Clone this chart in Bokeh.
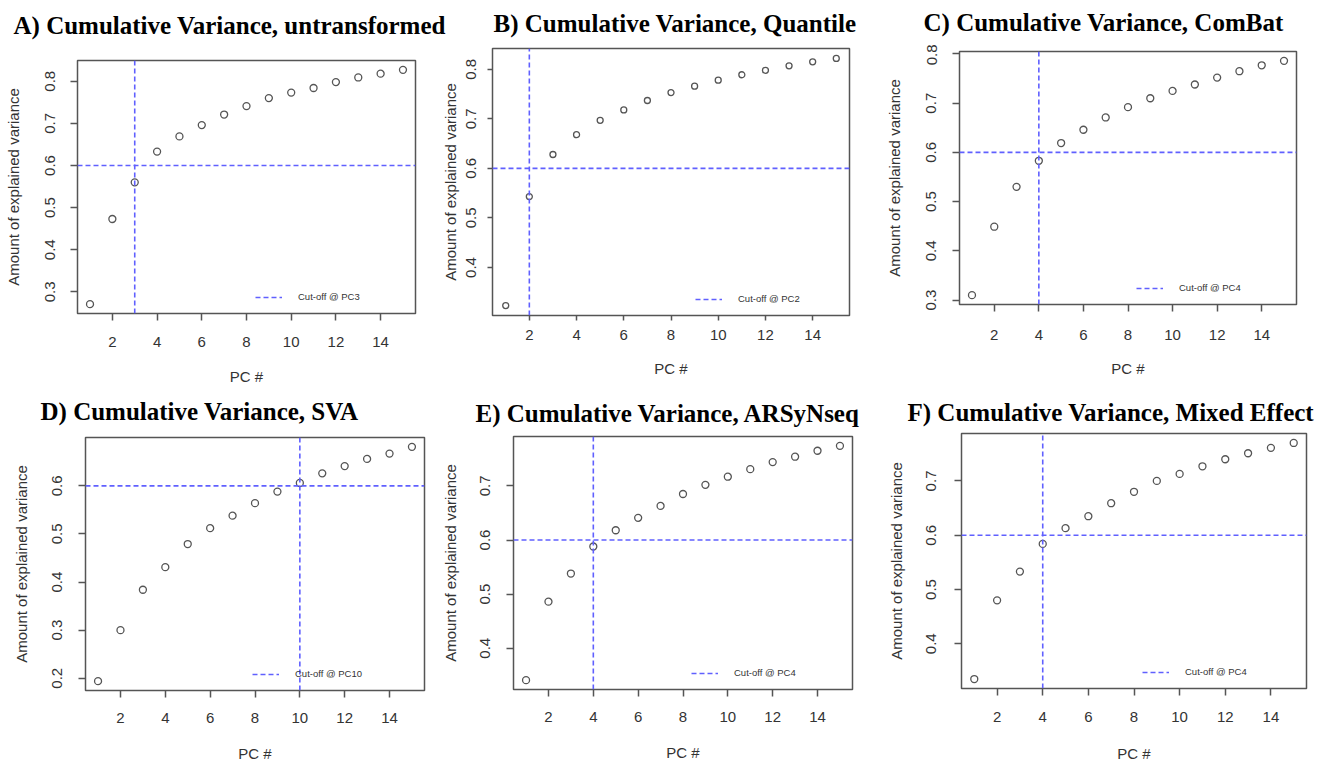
from bokeh.plotting import figure
from bokeh.layouts import column, row
from bokeh.models import (ColumnDataSource, Span, Legend, LegendItem, FixedTicker,
                          Range1d)
from bokeh.core.properties import value
from bokeh.embed import file_html
from bokeh.resources import INLINE

# ---------------- data ----------------
pcs = list(range(1, 16))
x_ticks = [2, 4, 6, 8, 10, 12, 14]
threshold = 0.6

titles = [
    "A) Cumulative Variance, untransformed",
    "B) Cumulative Variance, Quantile",
    "C) Cumulative Variance, ComBat",
    "D) Cumulative Variance, SVA",
    "E) Cumulative Variance, ARSyNseq",
    "F) Cumulative Variance, Mixed Effect",
]
var_untransformed = [0.271, 0.473, 0.560, 0.633, 0.669, 0.696, 0.721, 0.741, 0.760, 0.773, 0.784, 0.798, 0.809, 0.818, 0.827]
var_quantile = [0.323, 0.543, 0.628, 0.668, 0.697, 0.718, 0.737, 0.753, 0.766, 0.778, 0.789, 0.798, 0.807, 0.815, 0.822]
var_combat = [0.310, 0.449, 0.530, 0.583, 0.619, 0.646, 0.671, 0.692, 0.710, 0.725, 0.738, 0.752, 0.765, 0.777, 0.786]
var_sva = [0.194, 0.300, 0.384, 0.431, 0.479, 0.512, 0.538, 0.564, 0.588, 0.606, 0.626, 0.641, 0.656, 0.667, 0.681]
var_arsynseq = [0.341, 0.486, 0.538, 0.588, 0.618, 0.641, 0.663, 0.685, 0.702, 0.717, 0.731, 0.744, 0.754, 0.765, 0.774]
var_mixed = [0.335, 0.480, 0.533, 0.584, 0.613, 0.635, 0.659, 0.680, 0.700, 0.713, 0.727, 0.740, 0.751, 0.761, 0.770]
series = [var_untransformed, var_quantile, var_combat, var_sva, var_arsynseq, var_mixed]
cutoffs = [3, 2, 4, 10, 4, 4]
y_ticks = [
    [0.3, 0.4, 0.5, 0.6, 0.7, 0.8],
    [0.4, 0.5, 0.6, 0.7, 0.8],
    [0.3, 0.4, 0.5, 0.6, 0.7, 0.8],
    [0.2, 0.3, 0.4, 0.5, 0.6],
    [0.4, 0.5, 0.6, 0.7],
    [0.4, 0.5, 0.6, 0.7],
]
legend_labels = ["Cut-off @ PC%d" % c for c in cutoffs]

# ---------------- layout (pixels) ----------------
PAGE_W = 1330
title_band_h = [44, 42]                 # height of the title strip above each row
title_x = [13, 493, 923, 40, 475, 907]  # left edge of each title, page pixels
title_y = [25, 23, 22, 23, 25, 24]      # text anchor inside its title strip
fig_w = [438, 444, 448, 438, 444, 448]
fig_h = [344, 344, 344, 334, 334, 334]
b_left = [77, 52, 76, 85, 75, 79]
b_right = [23, 33, 34, 14, 30, 24]
b_top = [16, 4, 7, 7, 6, 3]
b_bot = [75, 73, 84, 74, 75, 74]
tick_out = [7, 5, 7, 7, 7, 7]
y_s1 = [15, 11, 16, 16, 16, 18]
y_s2 = [21, 5, 21, 20, 19, 19]
x_s1 = [16, 9, 18, 15, 15, 16]
x_s2 = [18, 17, 17, 19, 19, 20]
leg_x = [178, 203, 177, 167, 178, 181]
marker_size = [7, 6, 7, 7, 7, 7]

SANS = "Liberation Sans"
SERIF = "Liberation Serif"
DASH_COL = "#6060ff"
GREY = "#555555"


def make_title_strip(r):
    h = title_band_h[r]
    t = figure(width=PAGE_W, height=h, output_backend="svg", toolbar_location=None,
               x_range=Range1d(0, PAGE_W), y_range=Range1d(h, 0),
               x_axis_type=None, y_axis_type=None, min_border=0,
               outline_line_color=None)
    t.grid.visible = False
    idx = range(3 * r, 3 * r + 3)
    src = ColumnDataSource(dict(x=[title_x[i] for i in idx],
                                y=[title_y[i] for i in idx],
                                t=[titles[i] for i in idx]))
    t.text("x", "y", text="t", source=src, text_font=value(SERIF),
           text_font_size="25px", text_font_style="bold", text_color="#000000",
           text_align="left", text_baseline="alphabetic")
    return t


def make_panel(i):
    vals = series[i]
    lo, hi = min(vals), max(vals)
    pad = 0.04 * (hi - lo)
    xpad = 0.04 * (max(pcs) - min(pcs))
    y0, y1 = lo - pad, hi + pad
    p = figure(width=fig_w[i], height=fig_h[i], output_backend="svg",
               toolbar_location=None,
               x_range=Range1d(min(pcs) - xpad, max(pcs) + xpad),
               y_range=Range1d(y0, y1),
               min_border_left=b_left[i], min_border_right=b_right[i],
               min_border_top=b_top[i], min_border_bottom=b_bot[i],
               title=None)
    p.grid.visible = False
    p.outline_line_color = GREY
    p.outline_line_width = 1.5
    p.background_fill_color = "white"
    p.border_fill_color = "white"

    for ax in (p.xaxis[0], p.yaxis[0]):
        ax.axis_line_color = None
        ax.major_tick_line_color = GREY
        ax.major_tick_line_width = 1.5
        ax.major_tick_in = 0
        ax.major_tick_out = tick_out[i]
        ax.minor_tick_line_color = None
        ax.major_label_text_font = SANS
        ax.major_label_text_font_size = "15px"
        ax.major_label_text_color = "#333333"
        ax.axis_label_text_font = SANS
        ax.axis_label_text_font_size = "15px"
        ax.axis_label_text_font_style = "normal"
        ax.axis_label_text_color = "#333333"

    p.xaxis.ticker = FixedTicker(ticks=x_ticks)
    p.xaxis.axis_label = "PC #"
    p.xaxis.major_label_standoff = x_s1[i]
    p.xaxis.axis_label_standoff = x_s2[i]
    p.yaxis.ticker = FixedTicker(ticks=y_ticks[i])
    p.yaxis.formatter.use_scientific = False
    p.yaxis.axis_label = "Amount of explained variance"
    p.yaxis.major_label_orientation = "vertical"
    p.yaxis.major_label_standoff = y_s1[i]
    p.yaxis.axis_label_standoff = y_s2[i]

    src = ColumnDataSource(dict(pc=pcs, v=vals))
    p.scatter("pc", "v", source=src, marker="circle", size=marker_size[i],
              fill_color=None, line_color=GREY, line_width=1.3)

    p.add_layout(Span(location=threshold, dimension="width", line_color=DASH_COL,
                      line_width=1.6, line_dash="5 3"))
    cut_line = p.line(x=[cutoffs[i], cutoffs[i]], y=[y0, y1], line_color=DASH_COL,
                      line_width=1.6, line_dash="5 3")

    leg = Legend(items=[LegendItem(label=legend_labels[i], renderers=[cut_line])],
                 location=(leg_x[i], 11), padding=0, margin=0, spacing=0,
                 glyph_width=27, glyph_height=10, label_height=10,
                 label_standoff=16, label_text_font=SANS,
                 label_text_font_size="9.5px", label_text_color="#333333",
                 border_line_color=None, background_fill_alpha=0)
    p.add_layout(leg, "center")
    return p


panels = [column(make_panel(i), spacing=0) for i in range(6)]
layout = column(make_title_strip(0), row(*panels[:3], spacing=0),
                make_title_strip(1), row(*panels[3:], spacing=0), spacing=0)

open("out.html", "w").write(file_html(layout, INLINE))
